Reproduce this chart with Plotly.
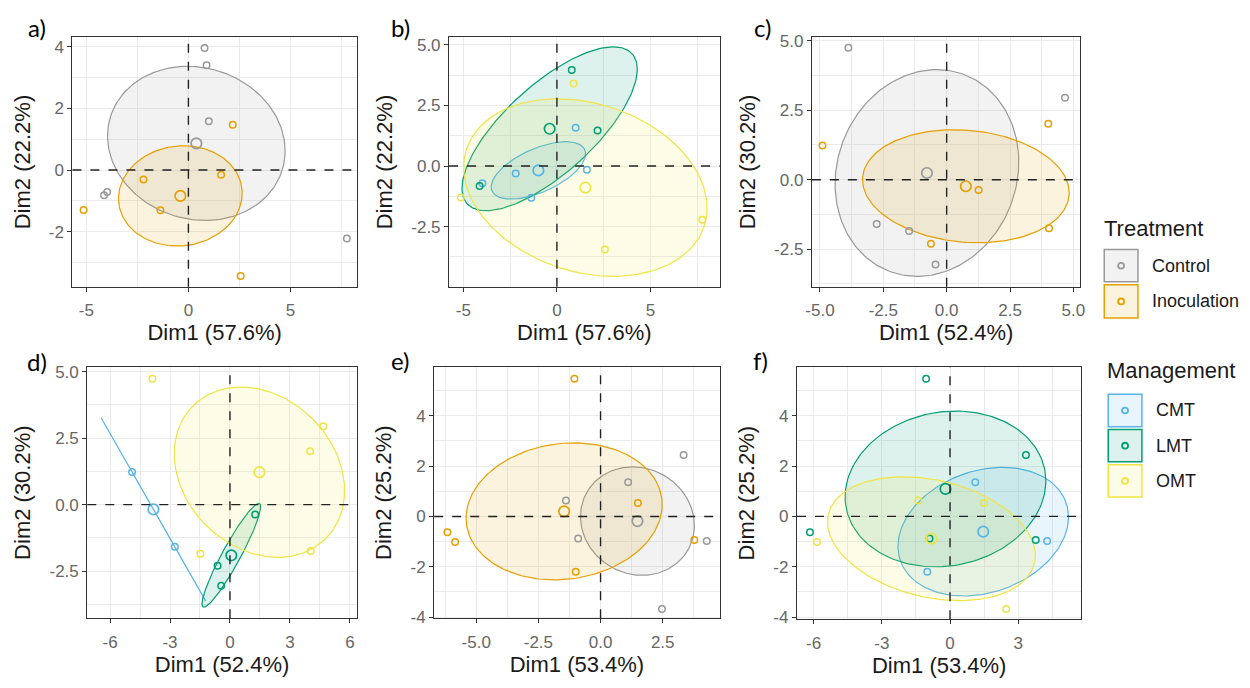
import numpy as np
import plotly.graph_objects as go

W, H = 1250, 688

# ---------------- colours ----------------
COLORS = {
    "Control": "#999999",
    "Inoculation": "#E69F00",
    "CMT": "#56B4E9",
    "LMT": "#009E73",
    "OMT": "#F0E442",
}
treatment_levels = ["Control", "Inoculation"]
management_levels = ["CMT", "LMT", "OMT"]

# ---------------- data: PCA 1 (panels a, b) ----------------
pca1_dim1 = [0.79, 0.89, 1.00, -4.13, -3.98, 7.76, 2.17, -2.20, 1.60, -1.37, -5.13, 2.56]
pca1_dim2 = [3.96, 3.40, 1.58, -0.82, -0.71, -2.22, 1.47, -0.31, -0.15, -1.31, -1.30, -3.44]
pca1_treatment = ["Control", "Control", "Control", "Control", "Control", "Control",
                  "Inoculation", "Inoculation", "Inoculation", "Inoculation", "Inoculation", "Inoculation"]
pca1_management = ["LMT", "OMT", "CMT", "LMT", "CMT", "OMT",
                   "LMT", "CMT", "CMT", "CMT", "OMT", "OMT"]

# ---------------- data: PCA 2 (panels c, d) ----------------
pca2_dim1 = [-3.88, 4.67, -2.76, -1.48, -0.44, -4.90, 4.01, 1.26, -0.62, 4.04]
pca2_dim2 = [4.74, 2.95, -1.59, -1.85, -3.05, 1.23, 2.01, -0.37, -2.30, -1.75]
pca2_treatment = ["Control", "Control", "Control", "Control", "Control",
                  "Inoculation", "Inoculation", "Inoculation", "Inoculation", "Inoculation"]
pca2_management = ["OMT", "OMT", "CMT", "OMT", "LMT",
                   "CMT", "OMT", "LMT", "LMT", "OMT"]

# ---------------- data: PCA 3 (panels e, f) ----------------
pca3_dim1 = [-1.05, -6.16, -5.85, 1.50, 3.77, -1.00, -1.39, -0.90, 1.11, 3.34, 4.27, 2.47]
pca3_dim2 = [5.47, -0.63, -1.02, 0.53, -0.94, -2.20, 0.63, -0.88, 1.36, 2.44, -0.98, -3.68]
pca3_treatment = ["Inoculation", "Inoculation", "Inoculation", "Inoculation", "Inoculation", "Inoculation",
                  "Control", "Control", "Control", "Control", "Control", "Control"]
pca3_management = ["LMT", "LMT", "OMT", "OMT", "LMT", "CMT",
                   "OMT", "LMT", "CMT", "LMT", "CMT", "OMT"]

# ---------------- axis labels / ticks ----------------
var_pca1 = ("Dim1 (57.6%)", "Dim2 (22.2%)")
var_pca2 = ("Dim1 (52.4%)", "Dim2 (30.2%)")
var_pca3 = ("Dim1 (53.4%)", "Dim2 (25.2%)")

ticks_a_x = [-5, 0, 5];            labels_a_x = ["-5", "0", "5"]
ticks_a_y = [-2, 0, 2, 4];         labels_a_y = ["-2", "0", "2", "4"]
ticks_b_x = [-5, 0, 5];            labels_b_x = ["-5", "0", "5"]
ticks_b_y = [-5, -2.5, 0, 2.5, 5]; labels_b_y = ["-5.0", "-2.5", "0.0", "2.5", "5.0"]
ticks_c_x = [-5, -2.5, 0, 2.5, 5]; labels_c_x = ["-5.0", "-2.5", "0.0", "2.5", "5.0"]
ticks_c_y = [-2.5, 0, 2.5, 5];     labels_c_y = ["-2.5", "0.0", "2.5", "5.0"]
ticks_d_x = [-6, -3, 0, 3, 6];     labels_d_x = ["-6", "-3", "0", "3", "6"]
ticks_d_y = [-2.5, 0, 2.5, 5];     labels_d_y = ["-2.5", "0.0", "2.5", "5.0"]
ticks_e_x = [-5, -2.5, 0, 2.5];    labels_e_x = ["-5.0", "-2.5", "0.0", "2.5"]
ticks_e_y = [-4, -2, 0, 2, 4];     labels_e_y = ["-4", "-2", "0", "2", "4"]
ticks_f_x = [-6, -3, 0, 3];        labels_f_x = ["-6", "-3", "0", "3"]
ticks_f_y = [-4, -2, 0, 2, 4];     labels_f_y = ["-4", "-2", "0", "2", "4"]

# ---------------- layout geometry (pixels) ----------------
panels = [
    dict(letter="a)", x=pca1_dim1, y=pca1_dim2, grp=pca1_treatment, levels=treatment_levels, var=var_pca1,
         box=(67, 354, 32, 287), xr=(-5.68, 8.25), yr=(-3.79, 4.31),
         tx=(ticks_a_x, labels_a_x), ty=(ticks_a_y, labels_a_y), mx=2.5, my=1.0, lab=(31, 22)),
    dict(letter="b)", x=pca1_dim1, y=pca1_dim2, grp=pca1_management, levels=management_levels, var=var_pca1,
         box=(447, 720, 32, 287), xr=(-5.76, 8.69), yr=(-4.98, 5.31),
         tx=(ticks_b_x, labels_b_x), ty=(ticks_b_y, labels_b_y), mx=2.5, my=1.25, lab=(398, 22)),
    dict(letter="c)", x=pca2_dim1, y=pca2_dim2, grp=pca2_treatment, levels=treatment_levels, var=var_pca2,
         box=(813, 1084, 32, 287), xr=(-5.32, 5.28), yr=(-3.85, 5.12),
         tx=(ticks_c_x, labels_c_x), ty=(ticks_c_y, labels_c_y), mx=1.25, my=1.25, lab=(763, 22)),
    dict(letter="d)", x=pca2_dim1, y=pca2_dim2, grp=pca2_management, levels=management_levels, var=var_pca2,
         box=(82, 354, 369, 626), xr=(-7.14, 6.35), yr=(-4.28, 5.18),
         tx=(ticks_d_x, labels_d_x), ty=(ticks_d_y, labels_d_y), mx=1.5, my=1.25, lab=(31, 363)),
    dict(letter="e)", x=pca3_dim1, y=pca3_dim2, grp=pca3_treatment, levels=treatment_levels, var=var_pca3,
         box=(432, 720, 369, 626), xr=(-6.69, 4.79), yr=(-4.05, 5.94),
         tx=(ticks_e_x, labels_e_x), ty=(ticks_e_y, labels_e_y), mx=1.25, my=1.0, lab=(398, 362)),
    dict(letter="f)", x=pca3_dim1, y=pca3_dim2, grp=pca3_management, levels=management_levels, var=var_pca3,
         box=(798, 1085, 369, 627), xr=(-6.73, 5.78), yr=(-4.09, 5.94),
         tx=(ticks_f_x, labels_f_x), ty=(ticks_f_y, labels_f_y), mx=1.5, my=1.0, lab=(761, 362)),
]


def rgba(hex_color, a):
    h = hex_color.lstrip("#")
    r, g, b = int(h[0:2], 16), int(h[2:4], 16), int(h[4:6], 16)
    return f"rgba({r},{g},{b},{a})"


def conf_ellipse(xs, ys, level=0.95, npts=200):
    """Confidence ellipse around the group barycentre (covariance / n)."""
    x = np.asarray(xs, float)
    y = np.asarray(ys, float)
    cx, cy = x.mean(), y.mean()
    cov = np.cov(np.vstack([x, y])) / len(x)
    vals, vecs = np.linalg.eigh(cov)
    vals = np.clip(vals, 0, None)
    r = np.sqrt(-2 * np.log(1 - level))  # chi-square quantile, 2 df
    t = np.linspace(0, 2 * np.pi, npts)
    circ = np.vstack([np.cos(t), np.sin(t)])
    pts = vecs @ (np.sqrt(vals)[:, None] * circ) * r
    return cx + pts[0], cy + pts[1]


FONT = "Liberation Sans, Arial, sans-serif"
TICK_COLOR = "#666666"
GRID = "#EBEBEB"
FILL_ALPHA = 0.13

fig = go.Figure()
layout = dict(
    width=W, height=H, margin=dict(l=0, r=0, t=0, b=0),
    paper_bgcolor="white", plot_bgcolor="white", showlegend=False,
    font=dict(family=FONT, color="#1a1a1a"),
)
shapes = []
annotations = []

for i, p in enumerate(panels, start=1):
    xa = "x" if i == 1 else f"x{i}"
    ya = "y" if i == 1 else f"y{i}"
    x0, x1, y0, y1 = p["box"]
    xs = np.asarray(p["x"])
    ys = np.asarray(p["y"])
    grp = np.asarray(p["grp"])

    # ellipses
    for lev in p["levels"]:
        m = grp == lev
        ex, ey = conf_ellipse(xs[m], ys[m])
        fig.add_trace(go.Scatter(
            x=ex, y=ey, mode="lines", fill="toself",
            fillcolor=rgba(COLORS[lev], FILL_ALPHA),
            line=dict(color=COLORS[lev], width=1.2),
            xaxis=xa, yaxis=ya, hoverinfo="skip", name=lev))
    # individual points
    for lev in p["levels"]:
        m = grp == lev
        fig.add_trace(go.Scatter(
            x=xs[m], y=ys[m], mode="markers",
            marker=dict(symbol="circle-open", size=6.5, color=COLORS[lev], line=dict(width=1.5)),
            xaxis=xa, yaxis=ya, name=lev))
    # barycentres
    for lev in p["levels"]:
        m = grp == lev
        fig.add_trace(go.Scatter(
            x=[xs[m].mean()], y=[ys[m].mean()], mode="markers",
            marker=dict(symbol="circle-open", size=10.5, color=COLORS[lev], line=dict(width=1.7)),
            xaxis=xa, yaxis=ya, name=lev + " mean"))

    axis_common = dict(
        showline=True, mirror=True, linecolor="#333333", linewidth=1.2,
        showgrid=True, gridcolor=GRID, gridwidth=1.1, zeroline=False,
        ticks="outside", ticklen=4, tickwidth=1, tickcolor="#333333",
        tickfont=dict(size=17, color=TICK_COLOR, family=FONT),
    )
    layout["xaxis" if i == 1 else f"xaxis{i}"] = dict(
        axis_common, domain=[x0 / W, x1 / W], anchor=ya, range=list(p["xr"]),
        tickmode="array", tickvals=p["tx"][0], ticktext=p["tx"][1],
        minor=dict(dtick=p["mx"], tick0=0, showgrid=True, gridcolor=GRID, gridwidth=0.6, ticks=""),
        ticklabelstandoff=4,
        title=dict(text=p["var"][0], font=dict(size=22, color="#1a1a1a", family=FONT), standoff=1),
    )
    layout["yaxis" if i == 1 else f"yaxis{i}"] = dict(
        axis_common, domain=[1 - y1 / H, 1 - y0 / H], anchor=xa, range=list(p["yr"]),
        tickmode="array", tickvals=p["ty"][0], ticktext=p["ty"][1],
        minor=dict(dtick=p["my"], tick0=0, showgrid=True, gridcolor=GRID, gridwidth=0.6, ticks=""),
        title=dict(text=p["var"][1], font=dict(size=22, color="#1a1a1a", family=FONT), standoff=12),
    )

    # dashed reference lines at 0
    shapes.append(dict(type="line", xref=xa, yref=f"{ya} domain", x0=0, x1=0, y0=0, y1=1,
                       line=dict(color="#222222", width=1.4, dash="dash"), layer="above"))
    shapes.append(dict(type="line", xref=f"{xa} domain", yref=ya, x0=0, x1=1, y0=0, y1=0,
                       line=dict(color="#222222", width=1.4, dash="dash"), layer="above"))

    # panel letter
    lx, ly = p["lab"]
    annotations.append(dict(text=p["letter"], xref="paper", yref="paper", x=lx / W, y=1 - ly / H,
                            xanchor="center", yanchor="middle", showarrow=False,
                            font=dict(size=24, color="black", family="Lato, Liberation Sans, sans-serif")))


# ---------------- manual legends ----------------
def add_legend(title, title_xy, levels, box_x, box_ys, label_x):
    tx, ty = title_xy
    annotations.append(dict(text=title, xref="paper", yref="paper", x=tx / W, y=1 - ty / H,
                            xanchor="left", yanchor="middle", showarrow=False,
                            font=dict(size=22, color="#1a1a1a", family=FONT)))
    for lev, (by0, by1) in zip(levels, box_ys):
        bx0, bx1 = box_x
        shapes.append(dict(type="rect", xref="paper", yref="paper",
                           x0=bx0 / W, x1=bx1 / W, y0=1 - by1 / H, y1=1 - by0 / H,
                           fillcolor=rgba(COLORS[lev], FILL_ALPHA), line=dict(color=COLORS[lev], width=1.5)))
        cx, cy = (bx0 + bx1) / 2, (by0 + by1) / 2
        shapes.append(dict(type="circle", xref="paper", yref="paper",
                           x0=(cx - 3) / W, x1=(cx + 3) / W, y0=1 - (cy + 3) / H, y1=1 - (cy - 3) / H,
                           line=dict(color=COLORS[lev], width=1.8)))
        annotations.append(dict(text=lev, xref="paper", yref="paper", x=label_x / W, y=1 - cy / H,
                                xanchor="left", yanchor="middle", showarrow=False,
                                font=dict(size=18, color="#1a1a1a", family=FONT)))


add_legend("Treatment", (1106, 227), treatment_levels, (1108, 1142), [(249, 282), (285, 319)], 1154)
add_legend("Management", (1109, 373), management_levels, (1112, 1146),
           [(397, 430), (433, 466), (469, 502)], 1158)

layout["shapes"] = shapes
layout["annotations"] = annotations
fig.update_layout(**layout)
fig.write_html("out.html")
